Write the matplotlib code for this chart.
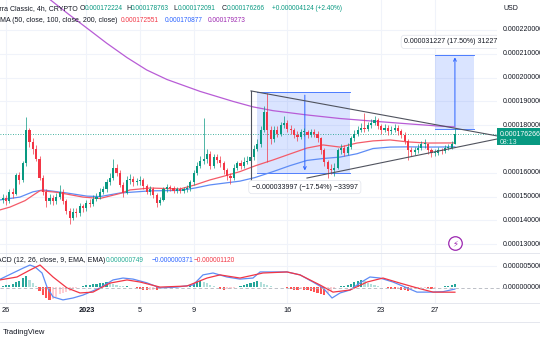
import matplotlib.pyplot as plt
import numpy as np
from matplotlib.patches import Rectangle
from matplotlib.transforms import blended_transform_factory

plt.rcParams['font.family'] = ['Liberation Sans', 'DejaVu Sans']

# prices in millionths of USD, candles every 6h, first one at Dec 25 18:00 (day -0.25)
first_open = 148.5
closes = [149.5, 148, 152, 151, 159, 157, 164, 178, 173, 170,
          166, 158, 152, 148, 149.5, 148, 150, 152, 148, 144,
          141, 143.5, 143, 146, 145, 147.5, 147, 149, 150, 152,
          153, 156, 158, 162, 160, 155, 151.5, 157, 157.5, 156,
          156.5, 157, 154.5, 152, 153, 150.5, 147.5, 148.5, 153, 154,
          153.5, 152.5, 153, 152.5, 153, 153.5, 156, 160, 163, 165,
          166, 168, 163, 166.5, 165.5, 164, 161, 158.5, 158, 162,
          164, 163, 164.5, 165, 166.5, 170, 172, 178, 185.5, 178,
          174, 178, 176.5, 180, 181, 178.5, 178, 176, 175, 177,
          177, 176, 177, 176.5, 174.5, 169.5, 164.5, 161.5, 161, 162,
          169.5, 170.5, 168.5, 171, 174.5, 176.5, 178, 179, 178.5, 180,
          181, 182, 179.5, 178, 179, 177.5, 178, 179, 177.5, 176,
          173.5, 169.5, 168.7, 169.6, 170.5, 172, 172, 169.5, 168.3, 168.5,
          169.6, 169.2, 170.4, 170.5, 172.224, 176.266]
highs = [151, 150.5, 153, 153.5, 160, 160.5, 165, 183.5, 179, 174.5,
         171.5, 167, 159, 153, 151, 150.5, 151.5, 155, 153, 149,
         145, 145, 145, 147.5, 147, 148.5, 149, 150.5, 151.5, 153.5,
         154.5, 157.5, 160, 166, 163.5, 161, 156, 158.5, 159.5, 158.5,
         158, 158.5, 158, 155.5, 154.5, 154, 151.5, 150, 154, 155.5,
         155, 154.5, 154, 154, 154, 155, 157, 161, 164.5, 167,
         183, 170, 169, 168, 168, 167, 165, 162, 160, 163.5,
         165, 165.5, 166.5, 167, 168, 171.5, 174, 179.5, 188, 193.5,
         179.5, 179.5, 179.5, 181.5, 184, 182, 180, 179, 177.5, 178.5,
         179, 178, 178.5, 178.5, 177.5, 175, 170.5, 165.5, 163.5, 164,
         170.5, 172, 171.5, 172.5, 175.5, 178, 179.5, 181, 185, 181.5,
         182.5, 184, 183, 180.5, 180.5, 180, 179.5, 180.5, 180, 178.5,
         177, 174, 171, 171, 172, 173.5, 174, 172.5, 170.5, 170,
         171, 170.5, 171.5, 172, 173.5, 178.763]
lows = [147.5, 146.5, 147.5, 149.5, 150.5, 155.5, 156, 163, 171, 168,
        165, 157, 150.5, 145.5, 147, 146.5, 147, 149, 147, 142.5,
        138.5, 140, 141.5, 142, 143.5, 144, 145.5, 146, 148, 149,
        151, 152, 155, 157, 158.5, 154, 150, 151, 155.5, 154.5,
        155, 155, 153, 151, 150.5, 149.5, 145.5, 146.5, 148, 152,
        152.5, 151.5, 151.5, 151.5, 151.5, 152, 152.5, 155, 159, 162,
        163.5, 164, 161.5, 162, 164, 162.5, 159.5, 157, 155.5, 157,
        161, 161.5, 162, 163.5, 164, 165.5, 169, 171, 177, 164.5,
        172, 173, 175, 175.5, 179, 177, 176.5, 174.5, 173.5, 174,
        175.5, 174.5, 175, 175, 173, 168, 163, 158, 159.5, 158.5,
        161.5, 168, 167, 167.5, 170, 173.5, 175.5, 177, 177, 177.5,
        179, 180, 178.5, 176.5, 177, 176, 176.5, 177, 176, 174.5,
        172, 165.5, 167, 167.5, 168.5, 169.5, 170.5, 168, 166.5, 167,
        167.5, 168, 168.5, 169.5, 170, 172.091]

# moving averages (day, value)
ma50_days = [-0.45, 0.3, 1.42, 2.0, 2.54, 3.8, 5.74, 7.01, 8.5, 9.25, 10.75, 12.99, 14.1,
             15.22, 16.34, 17.46, 18.58, 19.93, 21.19, 22.46, 23.66, 24.93, 26.19, 27.39,
             28.66, 29.93, 31.42, 33.5]
ma50 = [144.4, 145.6, 148.3, 150.5, 152.5, 151.8, 149.8, 149.2, 151.3, 152.8, 153.6, 153.2, 154.9,
        157, 158.7, 160.5, 162.9, 165.4, 167.9, 170.4, 171.7, 170.8, 172.5, 173.4,
        173.8, 173, 172.5, 172.551]
ma100_days = [-0.45, 1.04, 2.01, 2.76, 4.55, 6.04, 7.01, 8.5, 10.75, 13, 14.1, 15.22, 17.46,
              18.58, 19.93, 21.19, 22.46, 23.66, 24.93, 26.19, 27.39, 28.66, 29.93, 31.42, 33.5]
ma100 = [148.6, 149.8, 152, 152.8, 151.5, 150.2, 150, 151.5, 152.4, 152.6, 153.6, 154.9, 156.5,
         158, 160.5, 163, 165.2, 166, 166.6, 168, 170.2, 170.8, 170.9, 170.8, 170.877]
ma200_days = [1.79, 3.28, 4.63, 6.27, 7.5, 9.03, 10.5, 12.01, 14.48, 16.94, 18.43, 19.93,
              22.46, 24.93, 27.39, 29.93, 32.39, 33.5]
ma200 = [239.3, 232.8, 226.8, 219.8, 214.5, 208.4, 203.2, 199.2, 194.2, 190, 187.7, 186.1,
         184.3, 182.8, 181.7, 180.6, 179.6, 179.273]

# MACD pane, millionths
macd_days = [-0.45, 0.52, 1.27, 1.79, 2.16, 2.69, 3.06, 3.51, 4.25, 5.0, 5.75, 7.01, 7.99,
             8.73, 9.48, 10.52, 11.49, 12.76, 13.96, 14.7, 15.45, 16.49, 17.46, 18.43, 18.96,
             19.7, 20.97, 21.94, 22.91, 23.66, 24.33, 24.93, 25.67, 26.42, 27.16, 27.91,
             28.88, 29.93, 30.67, 31.64, 32.61, 33.5]
macd = [1.95, 3.45, 4.6, 5.35, 4.9, 3.45, 0.1, -2.25, -2.95, -2.5, -1.8, -0.1, 1.8,
        2.25, 2.0, 1.1, -0.1, 0.1, 0.6, 3.0, 3.45, 2.5, 2.0, 2.25, 3.7,
        3.7, 3.7, 3.0, 1.3, -0.1, -2.5, -1.3, -0.6, 1.1, 2.5, 2.25,
        1.3, -0.1, -1.1, -1.1, -1.0, -0.371]
signal_days = [-0.45, 0.82, 1.79, 2.54, 3.51, 4.55, 5.52, 6.49, 7.76, 9.03, 10.0, 11.49, 13.5,
               15.0, 15.97, 17.46, 19.18, 20.97, 21.94, 23.43, 24.4, 25.67, 26.94, 28.13,
               29.4, 30.67, 31.87, 33.5]
signal = [1.8, 2.5, 4.15, 5.35, 2.5, -0.1, -1.3, -1.1, 1.05, 1.8, 1.3, 0.1, 0.35,
          2.25, 3.0, 2.25, 3.45, 3.7, 3.0, 0.6, -1.1, -0.6, 1.3, 2.25,
          1.05, -0.1, -1.1, -1.12]
hist = [0.3, 0.5, 0.7, 0.9, 1.2, 1.6, 2.2, 2.7, 1.8, 1.0,
        0.3, -0.8, -1.8, -2.6, -3.0, -2.8, -2.2, -1.5, -1.2, -1.0,
        -0.8, -0.4, -0.2, 0.2, 0.4, 0.6, 0.7, 0.8, 0.9, 1.0,
        1.1, 1.2, 1.1, 0.9, 0.6, 0.4, 0.3, 0.3, 0.2, 0.1,
        -0.1, -0.3, -0.5, -0.7, -0.6, -0.5, -0.7, -0.3, 0.1, 0.1,
        0.05, 0.05, 0.1, 0.1, 0.15, 0.2, 0.5, 0.9, 1.2, 1.5,
        1.4, 1.0, 0.6, 0.3, 0.1, -0.3, -0.5, -0.4, -0.3, -0.2,
        0.1, 0.3, 0.5, 0.8, 1.1, 1.4, 1.6, 1.2, 0.8, 0.5,
        0.3, 0.2, 0.1, 0.1, 0.05, -0.2, -0.4, -0.5, -0.6, -0.4,
        -0.5, -0.6, -0.9, -1.1, -1.3, -1.6, -1.8, -1.4, -0.9, -0.4,
        0.1, 0.3, 0.4, 0.6, 0.9, 1.2, 1.5, 1.8, 1.5, 1.1,
        0.8, 0.6, 0.4, 0.2, 0.1, -0.2, -0.3, -0.4, -0.3, -0.5,
        -0.7, -0.9, -0.6, -0.4, -0.3, -0.2, -0.1, -0.2, -0.3, -0.1,
        0.1, 0.2, 0.3, 0.3, 0.5, 0.749]

# drawings
tri_upper = ([18.28, 36.64], [194.4, 175.5])
tri_lower = ([22.46, 36.64], [157.8, 174.2])
tri_left = ([18.28, 18.28], [194.4, 152.8])
drop_box = (18.73, 25.67, 159.8, 193.8)   # t0, t1, low, high
rise_box = (32.0, 34.9, 178.44, 209.67)

price_ticks = [220, 210, 200, 190, 180, 170, 160, 150, 140, 130]
date_days = [0, 6, 10, 14, 21, 28, 32]
date_labels = ['26', '2023', '5', '9', '16', '23', '27']

UP, DOWN = '#089981', '#F23645'
TXT = '#131722'
GRID = '#F0F3FA'
W, H = 540, 340
FS = 5.0
FV = 4.7   # numbers in the legends


def fx(x):
    return x / W


def fy(y):
    return 1 - y / H


fig = plt.figure(figsize=(5.4, 3.4), dpi=100)
ax = fig.add_axes([0, fy(253), fx(497), 253 / H])
mx = fig.add_axes([0, fy(303), fx(497), 50 / H])
for a in (ax, mx):
    a.set_xlim(-0.448, 36.64)
    a.axis('off')
    for d in date_days:
        a.axvline(d, color=GRID, lw=0.8, zorder=0)
ax.set_ylim(126.3, 232.6)
mx.set_ylim(-3.69, 8.21)
for p in price_ticks:
    ax.axhline(p, color=GRID, lw=0.8, zorder=0)
mx.axhline(5, color=GRID, lw=0.8, zorder=0)
fig.add_artist(plt.Line2D([0, fx(505)], [fy(287.5), fy(287.5)], color='#B2B5BE', lw=0.6,
                          ls=(0, (4, 3))))

# price range boxes
blue = '#2962FF'
for (t0, t1, lo, hi) in (drop_box, rise_box):
    ax.add_patch(Rectangle((t0, lo), t1 - t0, hi - lo, fc=blue, alpha=0.17, lw=0, zorder=1))
    ax.plot([t0, t1], [lo, lo], color=blue, lw=0.7, alpha=0.8, zorder=2)
    ax.plot([t0, t1], [hi, hi], color=blue, lw=0.7, alpha=0.8, zorder=2)
mid = (drop_box[0] + drop_box[1]) / 2 + 0.1
ax.annotate('', xy=(mid, drop_box[2]), xytext=(mid, drop_box[3]),
            arrowprops=dict(arrowstyle='->', color=blue, lw=0.7, mutation_scale=5), zorder=3)
rmid = 33.5
ax.annotate('', xy=(rmid, rise_box[3]), xytext=(rmid, rise_box[2]),
            arrowprops=dict(arrowstyle='->', color=blue, lw=0.7, mutation_scale=5), zorder=3)

# moving averages
ax.plot(ma200_days, ma200, color='#B85CD6', lw=0.9, zorder=2)
ax.plot(ma100_days, ma100, color='#5E8CF5', lw=0.9, zorder=2)
ax.plot(ma50_days, ma50, color='#F45B69', lw=0.9, zorder=2)

# candles
c = np.array(closes)
o = np.array([first_open] + closes[:-1])
t = -0.25 + 0.25 * np.arange(len(c))
cols = np.where(c >= o, UP, DOWN)
ax.vlines(t, lows, highs, colors=cols, lw=0.5, zorder=3)
ax.bar(t, np.maximum(np.abs(c - o), 0.35), bottom=np.minimum(o, c), width=0.16,
       color=cols, lw=0, zorder=3)

# last price line
ax.axhline(closes[-1], color=UP, lw=0.6, ls=(0, (1, 2)), zorder=2)

# triangle
for xs, ys in (tri_upper, tri_lower, tri_left):
    ax.plot(xs, ys, color='#50535E', lw=0.8, zorder=4)

# range labels
box = dict(boxstyle='round,pad=0.45', fc='white', ec='#E0E3EB', lw=0.5)
ax.text(mid, 154.0, '\u22120.000033997 (\u221217.54%) \u221233997', fontsize=FS, color=TXT,
        ha='center', va='center', bbox=box, zorder=6)
ax.text(rmid - 0.3, 215.0, '0.000031227 (17.50%) 31227', fontsize=FS, color=TXT,
        ha='center', va='center', bbox=box, zorder=6, clip_on=True)

# events icon
ax.scatter([33.5], [130.5], s=95, facecolor='white', edgecolor='#9C27B0', lw=0.9, zorder=5)
ax.text(33.5, 130.4, '\u26a1', fontsize=6, color='#9C27B0', ha='center', va='center',
        family='DejaVu Sans', zorder=6)

# MACD
h = np.array(hist)
prev = np.concatenate([[h[0]], h[:-1]])
hcols = np.where(h >= 0, np.where(h >= prev, '#26A69A', '#B2DFDB'),
                 np.where(h < prev, '#FF5252', '#FFCDD2'))
mx.bar(t, h, width=0.16, color=hcols, lw=0, zorder=2)
mx.plot(macd_days, macd, color='#5E8CF5', lw=0.9, zorder=3)
mx.plot(signal_days, signal, color='#F23645', lw=0.9, zorder=3)

# pane separators
for yy in (253, 303, 322):
    fig.add_artist(plt.Line2D([0, 1], [fy(yy), fy(yy)], color='#E0E3EB', lw=0.6))

# right scale
for p in price_ticks:
    if p == 170:
        continue
    ax.text(fx(503) / fx(497), p, f'{p * 1e-6:.9f}', transform=ax.get_yaxis_transform(),
            fontsize=FS, color=TXT, va='center', ha='left', clip_on=False)
for v, lab in ((5, '0.000005000'), (0, '0.000000000')):
    mx.text(fx(503) / fx(497), v, lab, transform=mx.get_yaxis_transform(),
            fontsize=FS, color=TXT, va='center', ha='left', clip_on=False)
fig.text(fx(503), fy(9), 'USD', fontsize=FS, color=TXT, va='center')
fig.add_artist(Rectangle((fx(497), fy(145)), fx(43), 17 / H, transform=fig.transFigure,
                         fc=UP, lw=0))
fig.text(fx(500), fy(134.5), '0.000176266', fontsize=FS, color='white', va='center')
fig.text(fx(500), fy(142.5), '08:13', fontsize=FS, color='#D6F2EE', va='center')

# date axis
tr = blended_transform_factory(mx.transData, mx.transAxes)
for d, lab in zip(date_days, date_labels):
    mx.text(d, -0.16, lab, transform=tr, fontsize=FS + 0.3, color=TXT, ha='center', va='center',
            fontweight='bold' if lab == '2023' else 'normal', clip_on=False)

# headers
fig.text(fx(-8), fy(9), 'Terra Classic, 4h, CRYPTO', fontsize=FS, color=TXT, va='center')
for x, k, val in ((80, 'O', '0.000172224'), (126, 'H', '0.000178763'),
                  (173, 'L', '0.000172091'), (222, 'C', '0.000176266')):
    fig.text(fx(x), fy(9), k, fontsize=FS, color=TXT, va='center')
    fig.text(fx(x + 4.5), fy(9), val, fontsize=FV, color=UP, va='center')
fig.text(fx(272), fy(9), '+0.000004124 (+2.40%)', fontsize=FV, color=UP, va='center')
fig.text(fx(0), fy(20), 'MA (50, close, 100, close, 200, close)', fontsize=FS, color=TXT, va='center')
fig.text(fx(121), fy(20), '0.000172551', fontsize=FV, color='#F23645', va='center')
fig.text(fx(165), fy(20), '0.000170877', fontsize=FV, color='#2962FF', va='center')
fig.text(fx(208), fy(20), '0.000179273', fontsize=FV, color='#9C27B0', va='center')
fig.text(fx(-9), fy(261), 'MACD (12, 26, close, 9, EMA, EMA)', fontsize=FS, color=TXT, va='center')
fig.text(fx(106), fy(261), '0.000000749', fontsize=FV, color='#22AB94', va='center')
fig.text(fx(152), fy(261), '\u22120.000000371', fontsize=FV, color='#2962FF', va='center')
fig.text(fx(194), fy(261), '\u22120.000001120', fontsize=FV, color='#F23645', va='center')
fig.text(fx(3), fy(333), 'TradingView', fontsize=FS + 0.5, color=TXT, va='center')

fig.savefig('out.png', dpi=100)
